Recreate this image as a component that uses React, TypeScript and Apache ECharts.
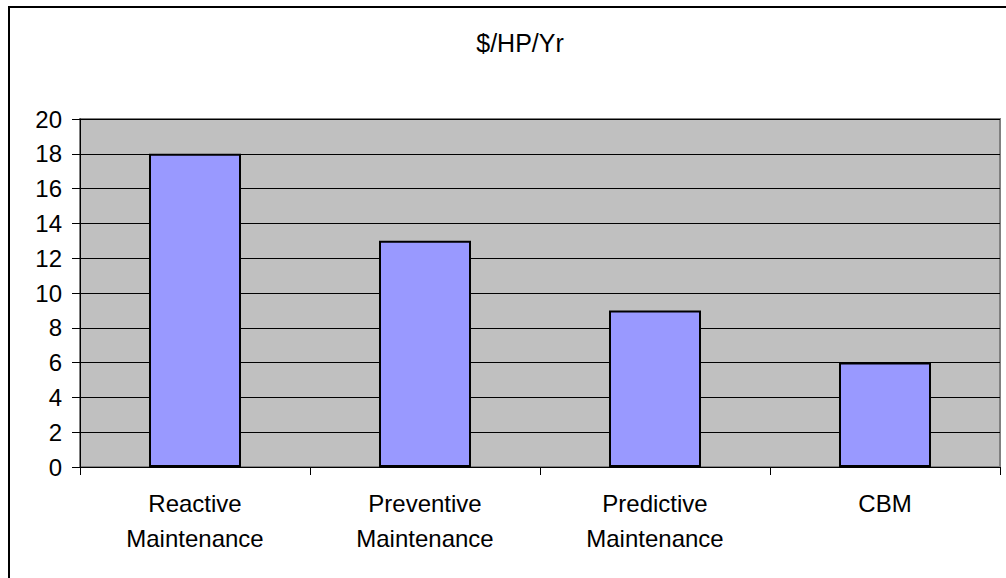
import React, { useEffect, useRef } from "react";
import * as echarts from "echarts";

const categories = ["Reactive\nMaintenance", "Preventive\nMaintenance", "Predictive\nMaintenance", "CBM"];
const values = [18, 13, 9, 6];
const chartTitle = "$/HP/Yr";
const FONT = "Arial, 'Liberation Sans', sans-serif";

export default function App() {
  const ref = useRef<HTMLDivElement>(null);
  useEffect(() => {
    const chart = echarts.init(ref.current!, null, { renderer: "svg" });
    chart.setOption({
      animation: false,
      backgroundColor: "#ffffff",
      title: {
        text: chartTitle,
        left: 515,
        top: 25,
        textAlign: "center",
        textStyle: { fontFamily: FONT, fontSize: 25, fontWeight: "normal", color: "#000" },
      },
      graphic: [
        {
          type: "rect",
          shape: { x: 9, y: 7, width: 1020, height: 600 },
          style: { fill: "none", stroke: "#000", lineWidth: 2 },
          z: 100,
        },
      ],
      grid: {
        left: 80,
        top: 119,
        right: 6,
        bottom: 111,
        show: true,
        backgroundColor: "#C0C0C0",
        borderColor: "#808080",
        borderWidth: 2,
      },
      xAxis: {
        type: "category",
        data: categories,
        boundaryGap: true,
        axisLine: { lineStyle: { color: "#000", width: 1 } },
        axisTick: { show: true, alignWithLabel: false, length: 8, lineStyle: { color: "#000" } },
        axisLabel: {
          fontFamily: FONT,
          fontSize: 24,
          color: "#000",
          lineHeight: 35,
          margin: 19,
          interval: 0,
        },
      },
      yAxis: {
        type: "value",
        min: 0,
        max: 20,
        interval: 2,
        axisLine: { show: true, lineStyle: { color: "#000", width: 1 } },
        axisTick: { show: true, length: 8, lineStyle: { color: "#000" } },
        axisLabel: { fontFamily: FONT, fontSize: 24, color: "#000", margin: 18 },
        splitLine: { show: true, lineStyle: { color: "#000", width: 1 } },
      },
      series: [
        {
          type: "bar",
          data: values,
          barWidth: "40%",
          itemStyle: { color: "#9999FF", borderColor: "#000", borderWidth: 2 },
        },
      ],
    });
    return () => chart.dispose();
  }, []);
  return (
    <div
      ref={ref}
      style={{ position: "absolute", left: 0, top: 0, width: 1006, height: 578 }}
    />
  );
}
